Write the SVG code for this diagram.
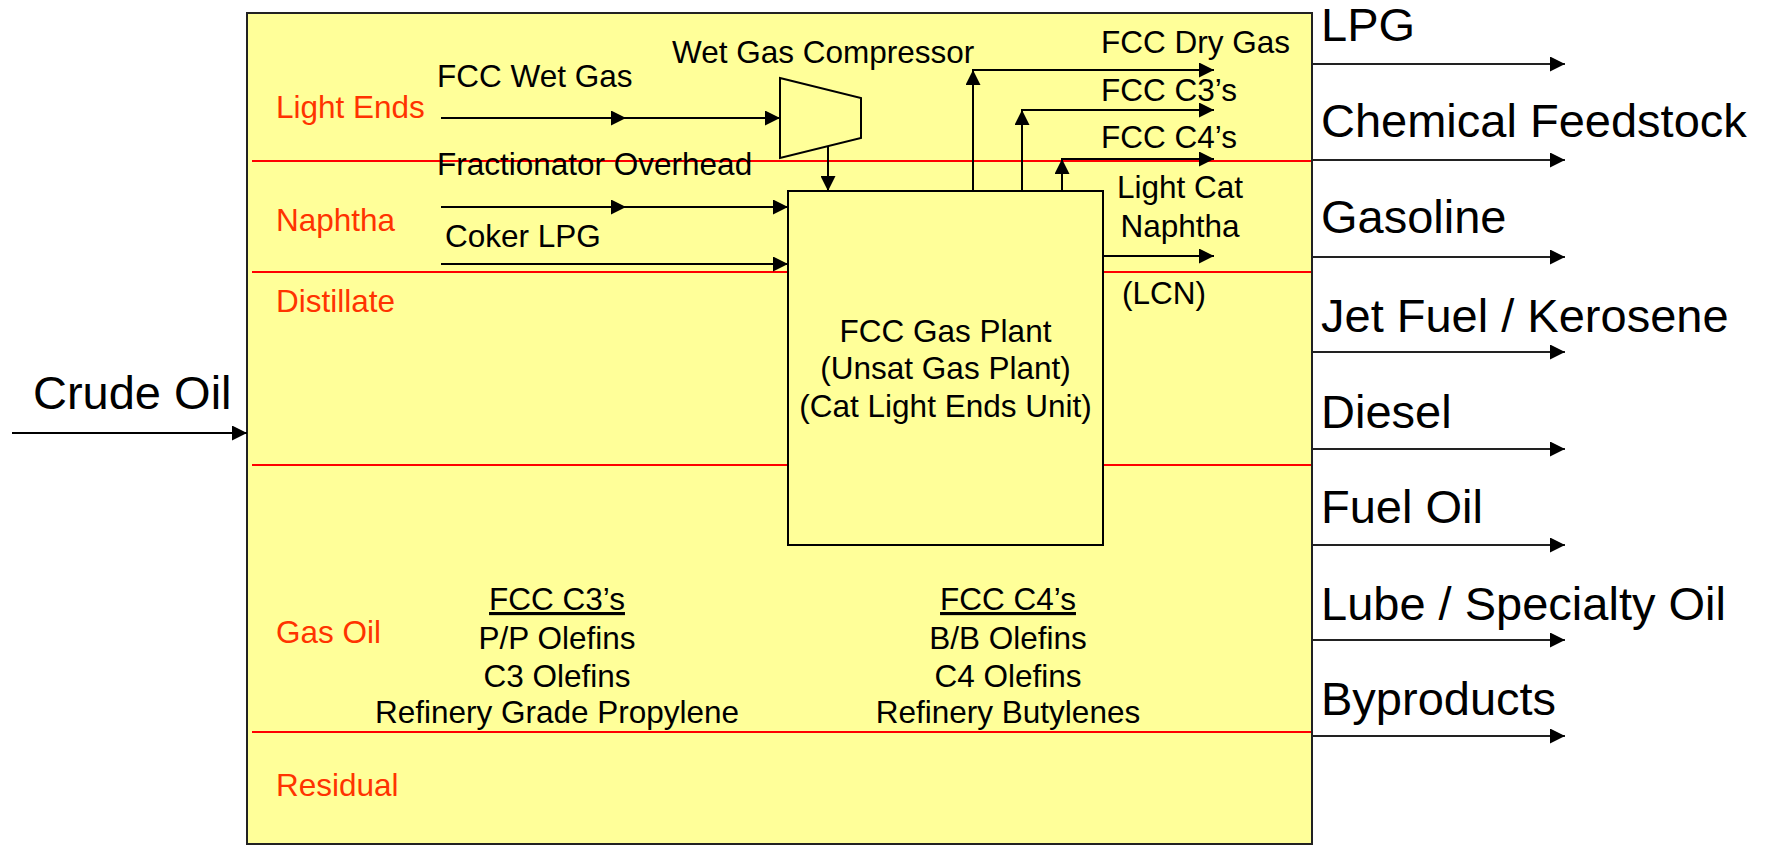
<svg xmlns="http://www.w3.org/2000/svg" width="1765" height="847" viewBox="0 0 1765 847">
<style>
text{font-family:"Liberation Sans",Arial,sans-serif;fill:#000}
.t{font-size:31.5px}
.big{font-size:47px}
.red{font-size:31.5px;fill:#FF3300}
.mid{text-anchor:middle}
.sep{stroke:#FF0000;stroke-width:2;fill:none}
.c{stroke:#000;stroke-width:2;fill:none}
.o{stroke:#222;stroke-width:2;fill:none}
</style>
<defs>
<marker id="ah" markerUnits="userSpaceOnUse" markerWidth="15" markerHeight="15" refX="15" refY="7.5" orient="auto">
<path d="M0,0 L15,7.5 L0,15 z" fill="#000"/>
</marker>
</defs>
<rect width="1765" height="847" fill="#fff"/>
<g id="refinery">
<rect x="247" y="13" width="1065" height="831" fill="#FFFF99" stroke="#222" stroke-width="2"/>
</g>
<g id="cuts">
<line class="sep" x1="252" y1="161" x2="1311" y2="161"/>
<line class="sep" x1="252" y1="272" x2="1311" y2="272"/>
<line class="sep" x1="252" y1="465" x2="1311" y2="465"/>
<line class="sep" x1="252" y1="732" x2="1311" y2="732"/>
</g>
<g id="compressor">
<polygon points="780,78 861,98 861,138 780,158" fill="#FFFF99" stroke="#000" stroke-width="2"/>
</g>
<g id="gasplant">
<rect x="788" y="191" width="315" height="354" fill="#FFFF99" stroke="#000" stroke-width="2"/>
<text class="t mid" x="945.5" y="342">FCC Gas Plant</text>
<text class="t mid" x="945.5" y="379">(Unsat Gas Plant)</text>
<text class="t mid" x="945.5" y="417">(Cat Light Ends Unit)</text>
</g>
<g id="connectors">
<line class="c" x1="12" y1="433" x2="247" y2="433" marker-end="url(#ah)"/>
<line class="c" x1="441" y1="118" x2="626" y2="118" marker-end="url(#ah)"/>
<line class="c" x1="620" y1="118" x2="780" y2="118" marker-end="url(#ah)"/>
<line class="c" x1="441" y1="207" x2="626" y2="207" marker-end="url(#ah)"/>
<line class="c" x1="620" y1="207" x2="788" y2="207" marker-end="url(#ah)"/>
<line class="c" x1="441" y1="264" x2="788" y2="264" marker-end="url(#ah)"/>
<line class="c" x1="828" y1="146" x2="828" y2="191" marker-end="url(#ah)"/>
<line class="c" x1="973" y1="191" x2="973" y2="70" marker-end="url(#ah)"/>
<line class="c" x1="972" y1="70" x2="1214" y2="70" marker-end="url(#ah)"/>
<line class="c" x1="1022" y1="191" x2="1022" y2="110" marker-end="url(#ah)"/>
<line class="c" x1="1021" y1="110" x2="1214" y2="110" marker-end="url(#ah)"/>
<line class="c" x1="1062" y1="191" x2="1062" y2="159" marker-end="url(#ah)"/>
<line class="c" x1="1061" y1="159" x2="1214" y2="159" marker-end="url(#ah)"/>
<line class="c" x1="1103" y1="256" x2="1214" y2="256" marker-end="url(#ah)"/>
<line class="o" x1="1312" y1="64" x2="1565" y2="64" marker-end="url(#ah)"/>
<line class="o" x1="1312" y1="160" x2="1565" y2="160" marker-end="url(#ah)"/>
<line class="o" x1="1312" y1="257" x2="1565" y2="257" marker-end="url(#ah)"/>
<line class="o" x1="1312" y1="352" x2="1565" y2="352" marker-end="url(#ah)"/>
<line class="o" x1="1312" y1="449" x2="1565" y2="449" marker-end="url(#ah)"/>
<line class="o" x1="1312" y1="545" x2="1565" y2="545" marker-end="url(#ah)"/>
<line class="o" x1="1312" y1="640" x2="1565" y2="640" marker-end="url(#ah)"/>
<line class="o" x1="1312" y1="736" x2="1565" y2="736" marker-end="url(#ah)"/>
</g>
<g id="labels">
<text class="big" x="33" y="409">Crude Oil</text>
<text class="red" x="276" y="118">Light Ends</text>
<text class="red" x="276" y="231">Naphtha</text>
<text class="red" x="276" y="312">Distillate</text>
<text class="red" x="276" y="643">Gas Oil</text>
<text class="red" x="276" y="796">Residual</text>
<text class="t" x="672" y="63">Wet Gas Compressor</text>
<text class="t" x="437" y="87">FCC Wet Gas</text>
<text class="t" x="437" y="175">Fractionator Overhead</text>
<text class="t" x="445" y="247">Coker LPG</text>
<text class="t" x="1101" y="53">FCC Dry Gas</text>
<text class="t" x="1101" y="101">FCC C3’s</text>
<text class="t" x="1101" y="148">FCC C4’s</text>
<text class="t mid" x="1180" y="198">Light Cat</text>
<text class="t mid" x="1180" y="237">Naphtha</text>
<text class="t mid" x="1164" y="304">(LCN)</text>
<text class="t mid" x="557" y="610" text-decoration="underline">FCC C3’s</text>
<text class="t mid" x="557" y="649">P/P Olefins</text>
<text class="t mid" x="557" y="687">C3 Olefins</text>
<text class="t mid" x="557" y="723">Refinery Grade Propylene</text>
<text class="t mid" x="1008" y="610" text-decoration="underline">FCC C4’s</text>
<text class="t mid" x="1008" y="649">B/B Olefins</text>
<text class="t mid" x="1008" y="687">C4 Olefins</text>
<text class="t mid" x="1008" y="723">Refinery Butylenes</text>
<text class="big" x="1321" y="41">LPG</text>
<text class="big" x="1321" y="137">Chemical Feedstock</text>
<text class="big" x="1321" y="233">Gasoline</text>
<text class="big" x="1321" y="332">Jet Fuel / Kerosene</text>
<text class="big" x="1321" y="428">Diesel</text>
<text class="big" x="1321" y="523">Fuel Oil</text>
<text class="big" x="1321" y="620">Lube / Specialty Oil</text>
<text class="big" x="1321" y="715">Byproducts</text>
</g>
</svg>
